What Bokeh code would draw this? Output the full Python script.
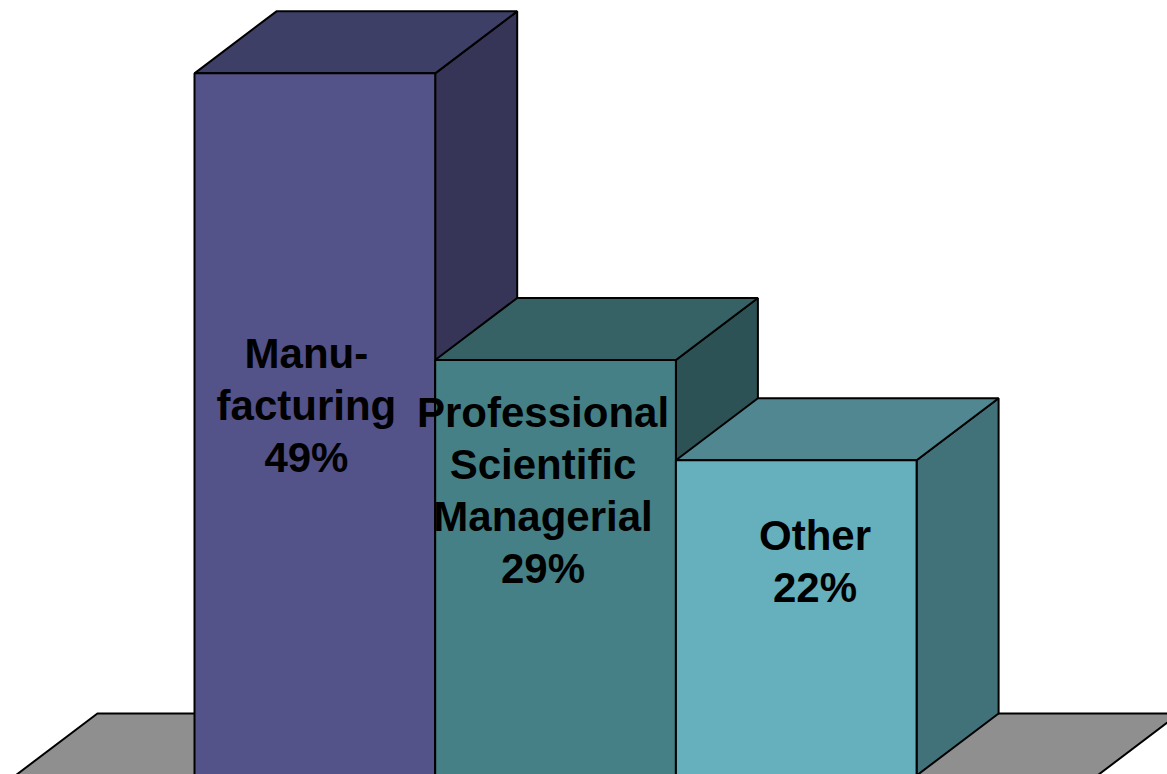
from bokeh.plotting import figure
from bokeh.models import Range1d
from bokeh.core.properties import value
from bokeh.embed import file_html
from bokeh.resources import INLINE

# ---- data ----
categories = ["Manufacturing", "Professional Scientific Managerial", "Other"]
shares = [49, 29, 22]
label_lines = [["Manu-", "facturing", "49%"],
               ["Professional", "Scientific", "Managerial", "29%"],
               ["Other", "22%"]]
front_colors = ["#535289", "#458086", "#66B0BD"]
top_colors = ["#3E3F67", "#366266", "#508791"]
side_colors = ["#363557", "#2D5255", "#427279"]

# ---- layout constants (data units: x = bar widths, y = percent) ----
W, H = 1167, 774
PX_PER_UNIT_X = 240.7
PX_PER_PCT = 14.33
X0 = -194 / PX_PER_UNIT_X
Y0 = 0.07
DX = 82 / PX_PER_UNIT_X     # depth offset in x
DY = 62 / PX_PER_PCT        # depth offset in y
label_center = [25.8, 19.9, 14.9]
label_dx = [-0.035, -0.052, 0.078]
LINE_STEP = 52 / PX_PER_PCT
LW = 2

p = figure(width=W, height=H, output_backend="svg", toolbar_location=None,
           x_range=Range1d(X0, X0 + W / PX_PER_UNIT_X),
           y_range=Range1d(Y0, Y0 + H / PX_PER_PCT),
           min_border=0, outline_line_color=None)
p.axis.visible = False
p.xgrid.visible = False
p.ygrid.visible = False
p.background_fill_color = "white"

# floor
fl, fr = -0.744, 3.751
p.patch([fl, fr, fr + DX, fl + DX], [0, 0, DY, DY],
        fill_color="#8F8F8F", line_color="black", line_width=LW)

n = len(shares)
for i in range(n):
    x1, x2, v = i, i + 1, shares[i]
    # side face
    p.patch([x2, x2 + DX, x2 + DX, x2], [0, DY, v + DY, v],
            fill_color=side_colors[i], line_color="black", line_width=LW)
    # top face
    p.patch([x1, x2, x2 + DX, x1 + DX], [v, v, v + DY, v + DY],
            fill_color=top_colors[i], line_color="black", line_width=LW)
    # front face
    p.patch([x1, x2, x2, x1], [0, 0, v, v],
            fill_color=front_colors[i], line_color="black", line_width=LW)

# labels
for i in range(n):
    lines = label_lines[i]
    k = len(lines)
    xs = [i + 0.5 + label_dx[i]] * k
    ys = [label_center[i] + ((k - 1) / 2 - j) * LINE_STEP for j in range(k)]
    p.text(x=xs, y=ys, text=lines, text_align="center", text_baseline="middle",
           text_font=value("Liberation Sans"), text_font_style="bold",
           text_font_size="42px", text_color="black")

open("out.html", "w").write(file_html(p, INLINE))
